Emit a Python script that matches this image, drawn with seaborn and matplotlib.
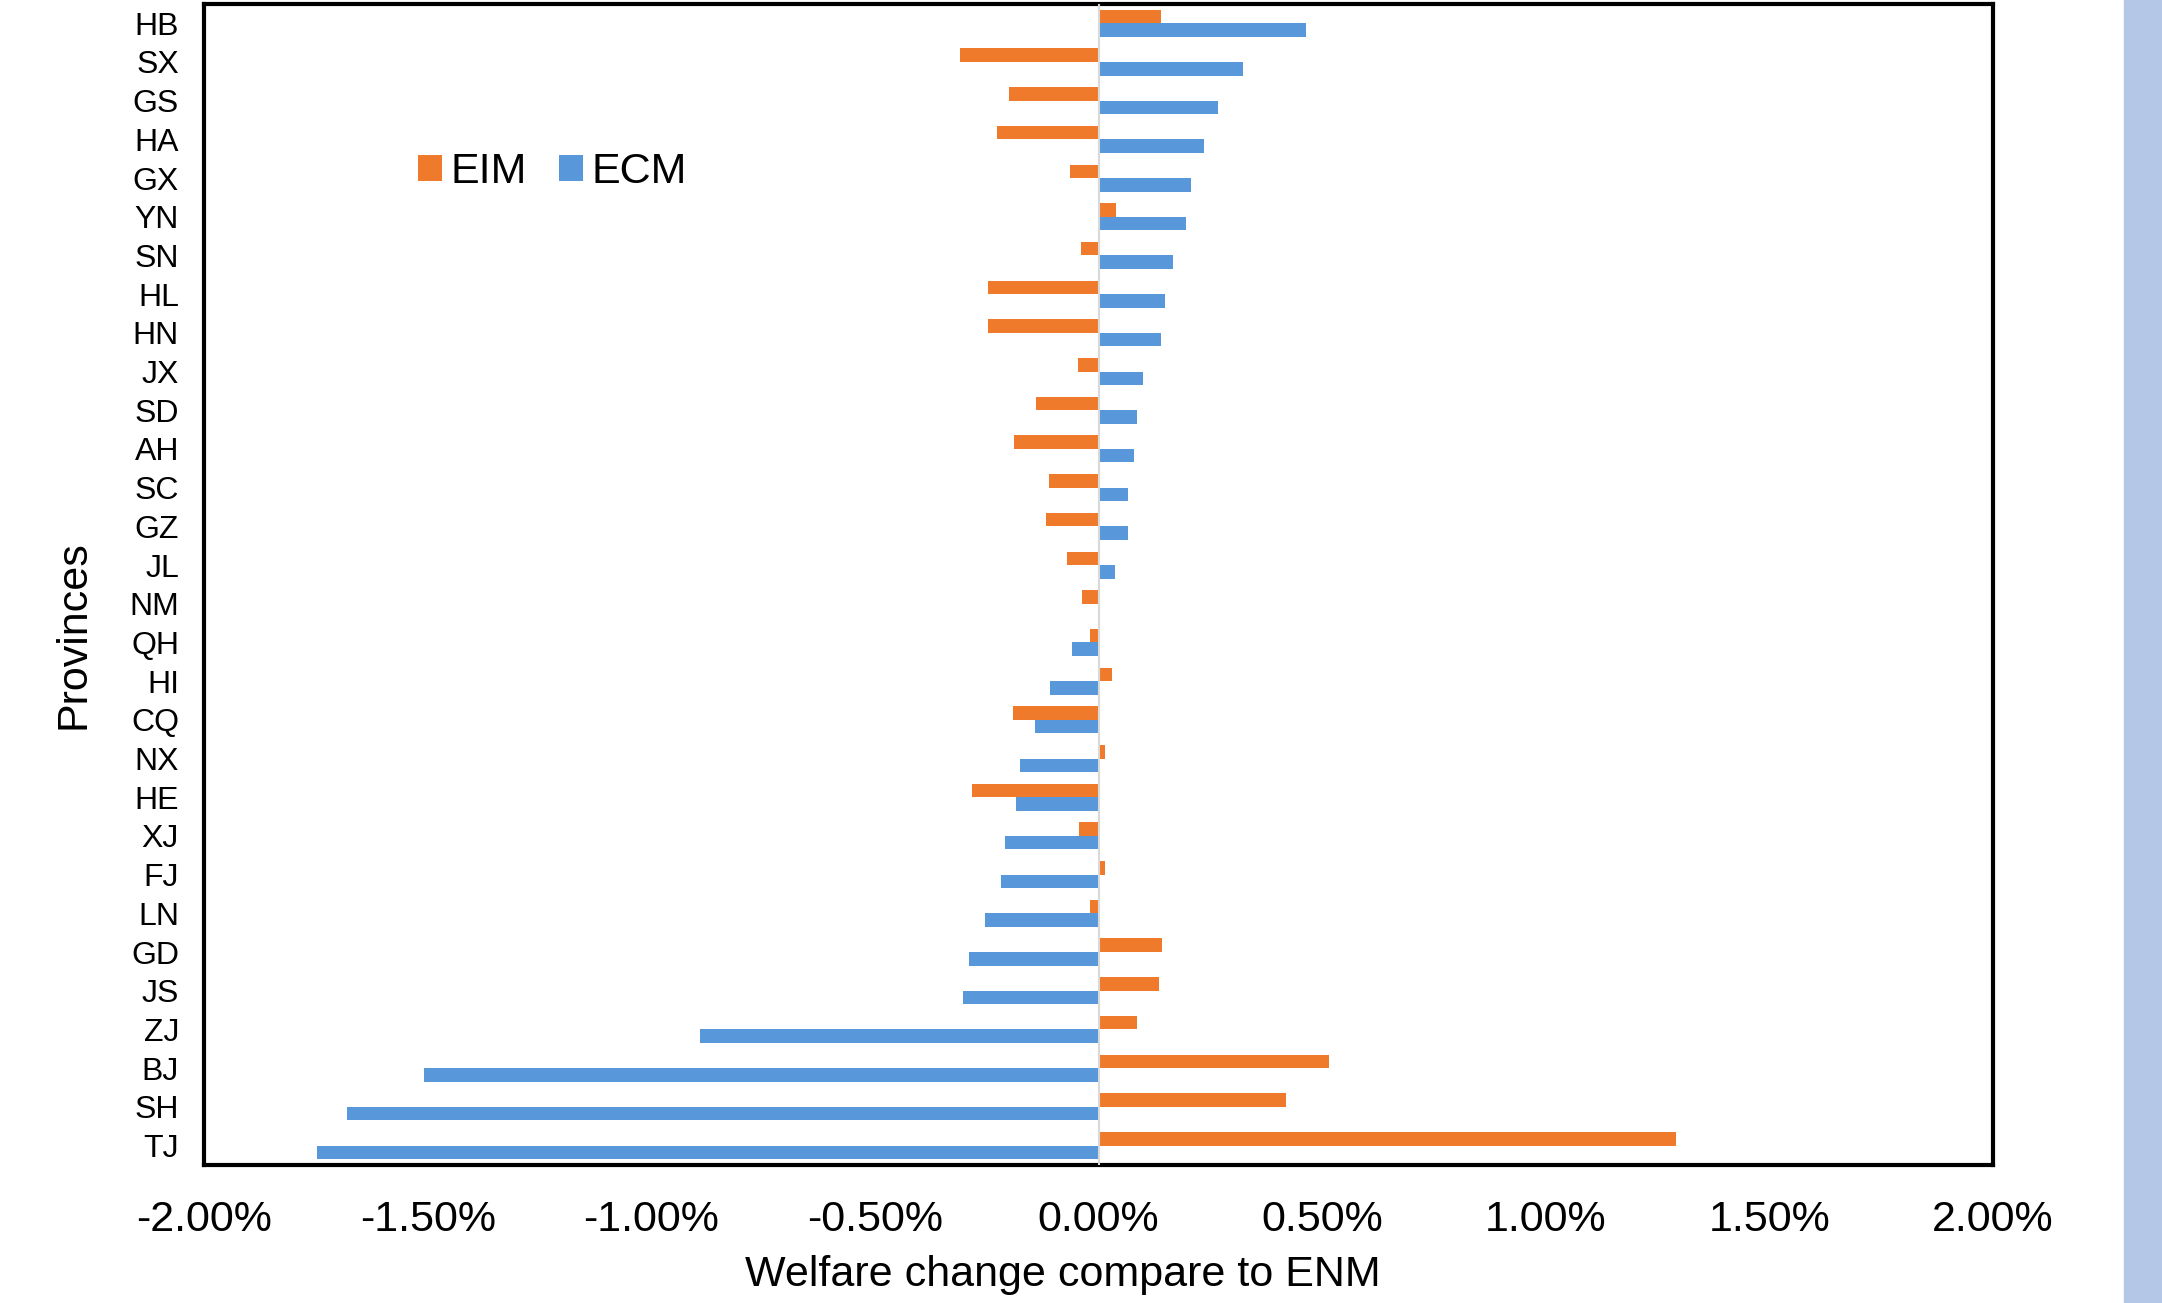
import pandas as pd
import seaborn as sns
import matplotlib.pyplot as plt
from matplotlib.patches import Rectangle
from matplotlib.ticker import FuncFormatter, MultipleLocator

# Data (welfare change in %)
provinces = ["HB", "SX", "GS", "HA", "GX", "YN", "SN", "HL", "HN", "JX",
             "SD", "AH", "SC", "GZ", "JL", "NM", "QH", "HI", "CQ", "NX",
             "HE", "XJ", "FJ", "LN", "GD", "JS", "ZJ", "BJ", "SH", "TJ"]
eim = [0.139, -0.309, -0.201, -0.226, -0.063, 0.040, -0.040, -0.247, -0.247, -0.046,
       -0.139, -0.188, -0.111, -0.117, -0.071, -0.037, -0.019, 0.031, -0.191, 0.015,
       -0.284, -0.043, 0.015, -0.019, 0.142, 0.136, 0.086, 0.515, 0.419, 1.292]
ecm = [0.465, 0.322, 0.268, 0.235, 0.206, 0.195, 0.167, 0.148, 0.139, 0.099,
       0.086, 0.080, 0.065, 0.065, 0.037, 0.0, -0.059, -0.108, -0.142, -0.176,
       -0.185, -0.210, -0.219, -0.253, -0.290, -0.302, -0.891, -1.508, -1.681, -1.748]

df = pd.DataFrame({
    "Province": provinces * 2,
    "Model": ["EIM"] * len(provinces) + ["ECM"] * len(provinces),
    "Value": eim + ecm,
})

sns.set_theme(style="white")
plt.rcParams["font.family"] = ["Liberation Sans", "DejaVu Sans"]
plt.rcParams["text.color"] = "black"
plt.rcParams["axes.labelcolor"] = "black"
plt.rcParams["xtick.color"] = "black"
plt.rcParams["ytick.color"] = "black"

fig = plt.figure(figsize=(21.62, 13.03), dpi=100)
ax = fig.add_axes([0.0944, 0.106, 0.8274, 0.891])

sns.barplot(data=df, x="Value", y="Province", hue="Model", hue_order=["EIM", "ECM"],
            palette={"EIM": "#EF7A2C", "ECM": "#5797DA"}, orient="h", width=0.7,
            saturation=1, linewidth=0, errorbar=None, ax=ax)

# zero line
ax.axvline(0, color="#D9D9D9", lw=1.5, zorder=3)

ax.set_xlim(-2, 2)
ax.xaxis.set_major_locator(MultipleLocator(0.5))
ax.xaxis.set_major_formatter(FuncFormatter(lambda v, p: f"{v:.2f}%"))
ax.tick_params(axis="x", labelsize=31, pad=25, length=0)
ax.tick_params(axis="y", labelsize=23, pad=18, length=0)

for s in ax.spines.values():
    s.set_visible(True)
    s.set_color("black")
    s.set_linewidth(3)

ax.set_xlabel("Welfare change compare to ENM", fontsize=31)
ax.xaxis.set_label_coords(0.48, -0.078)
ax.set_ylabel("Provinces", fontsize=31)
ax.yaxis.set_label_coords(-0.062, 0.457)

leg = ax.legend(loc="center left", bbox_to_anchor=(0.098, 0.855), ncol=2, frameon=False,
                fontsize=31, handlelength=0.55, handleheight=0.55, handletextpad=0.2,
                columnspacing=0.75)

# light blue strip at the right edge
fig.patches.append(Rectangle((2124 / 2162, 0), 1 - 2124 / 2162, 1,
                             transform=fig.transFigure, color="#B4C7E7", zorder=0))

fig.savefig("out.png", dpi=100)
